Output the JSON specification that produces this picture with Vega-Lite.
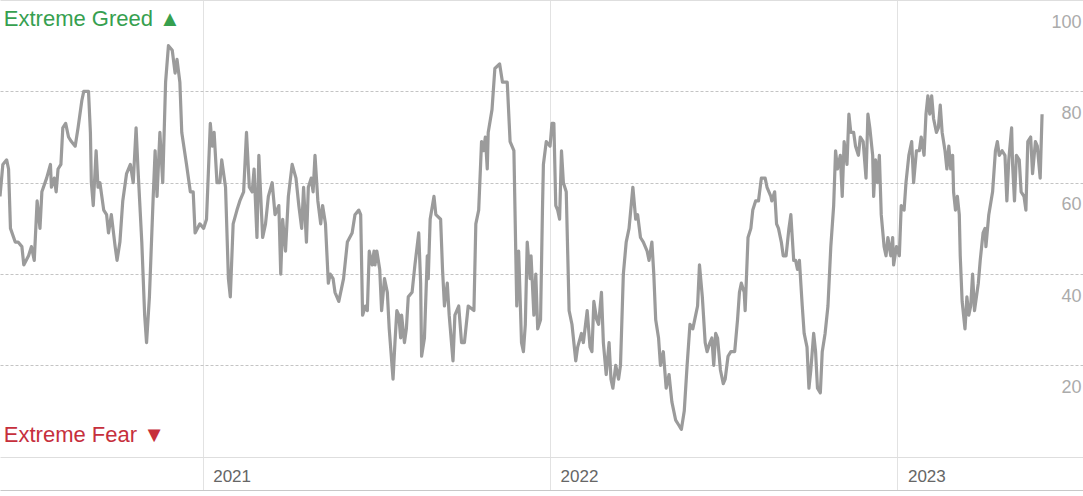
{
  "$schema": "https://vega.github.io/schema/vega-lite/v6.json",
  "width": 1083,
  "height": 491,
  "padding": 0,
  "autosize": "none",
  "background": "white",
  "datasets": {
    "fg": [
      {"date": "2020-06-02", "value": 57}, {"date": "2020-06-05", "value": 64}, {"date": "2020-06-09", "value": 65},
      {"date": "2020-06-11", "value": 63}, {"date": "2020-06-13", "value": 50}, {"date": "2020-06-18", "value": 47},
      {"date": "2020-06-21", "value": 47}, {"date": "2020-06-25", "value": 46}, {"date": "2020-06-27", "value": 42},
      {"date": "2020-07-02", "value": 44}, {"date": "2020-07-05", "value": 46}, {"date": "2020-07-08", "value": 43},
      {"date": "2020-07-11", "value": 56}, {"date": "2020-07-14", "value": 50}, {"date": "2020-07-16", "value": 58},
      {"date": "2020-07-21", "value": 61}, {"date": "2020-07-25", "value": 64}, {"date": "2020-07-26", "value": 59},
      {"date": "2020-07-29", "value": 61}, {"date": "2020-07-31", "value": 58}, {"date": "2020-08-02", "value": 63},
      {"date": "2020-08-05", "value": 64}, {"date": "2020-08-07", "value": 72}, {"date": "2020-08-10", "value": 73},
      {"date": "2020-08-13", "value": 70}, {"date": "2020-08-16", "value": 69}, {"date": "2020-08-20", "value": 68},
      {"date": "2020-08-23", "value": 72}, {"date": "2020-08-27", "value": 78}, {"date": "2020-08-29", "value": 80},
      {"date": "2020-09-03", "value": 80}, {"date": "2020-09-05", "value": 71}, {"date": "2020-09-06", "value": 60},
      {"date": "2020-09-08", "value": 55}, {"date": "2020-09-11", "value": 67}, {"date": "2020-09-13", "value": 59},
      {"date": "2020-09-15", "value": 60}, {"date": "2020-09-19", "value": 54}, {"date": "2020-09-22", "value": 53},
      {"date": "2020-09-24", "value": 49}, {"date": "2020-09-27", "value": 53}, {"date": "2020-10-01", "value": 46},
      {"date": "2020-10-03", "value": 43}, {"date": "2020-10-06", "value": 47}, {"date": "2020-10-09", "value": 56},
      {"date": "2020-10-13", "value": 62}, {"date": "2020-10-17", "value": 64}, {"date": "2020-10-20", "value": 60},
      {"date": "2020-10-23", "value": 72}, {"date": "2020-10-25", "value": 63}, {"date": "2020-10-29", "value": 47},
      {"date": "2020-11-01", "value": 31}, {"date": "2020-11-03", "value": 25}, {"date": "2020-11-06", "value": 35},
      {"date": "2020-11-10", "value": 57}, {"date": "2020-11-12", "value": 67}, {"date": "2020-11-14", "value": 57},
      {"date": "2020-11-17", "value": 71}, {"date": "2020-11-20", "value": 60}, {"date": "2020-11-23", "value": 82},
      {"date": "2020-11-26", "value": 90}, {"date": "2020-11-30", "value": 89}, {"date": "2020-12-03", "value": 84},
      {"date": "2020-12-05", "value": 87}, {"date": "2020-12-08", "value": 82}, {"date": "2020-12-10", "value": 71},
      {"date": "2020-12-15", "value": 64}, {"date": "2020-12-19", "value": 58}, {"date": "2020-12-22", "value": 58},
      {"date": "2020-12-24", "value": 49}, {"date": "2020-12-29", "value": 51}, {"date": "2021-01-02", "value": 50},
      {"date": "2021-01-05", "value": 52}, {"date": "2021-01-09", "value": 73}, {"date": "2021-01-11", "value": 68},
      {"date": "2021-01-13", "value": 71}, {"date": "2021-01-16", "value": 60}, {"date": "2021-01-19", "value": 60},
      {"date": "2021-01-21", "value": 65}, {"date": "2021-01-25", "value": 59}, {"date": "2021-01-28", "value": 39},
      {"date": "2021-01-30", "value": 35}, {"date": "2021-02-02", "value": 51}, {"date": "2021-02-06", "value": 54},
      {"date": "2021-02-09", "value": 56}, {"date": "2021-02-13", "value": 58}, {"date": "2021-02-16", "value": 71},
      {"date": "2021-02-19", "value": 59}, {"date": "2021-02-22", "value": 58}, {"date": "2021-02-24", "value": 63},
      {"date": "2021-02-27", "value": 48}, {"date": "2021-03-01", "value": 66}, {"date": "2021-03-05", "value": 48},
      {"date": "2021-03-08", "value": 51}, {"date": "2021-03-11", "value": 57}, {"date": "2021-03-15", "value": 60},
      {"date": "2021-03-18", "value": 53}, {"date": "2021-03-22", "value": 55}, {"date": "2021-03-24", "value": 40},
      {"date": "2021-03-26", "value": 52}, {"date": "2021-03-29", "value": 45}, {"date": "2021-04-01", "value": 57},
      {"date": "2021-04-05", "value": 64}, {"date": "2021-04-09", "value": 61}, {"date": "2021-04-12", "value": 55},
      {"date": "2021-04-15", "value": 50}, {"date": "2021-04-17", "value": 59}, {"date": "2021-04-20", "value": 47},
      {"date": "2021-04-22", "value": 59}, {"date": "2021-04-25", "value": 61}, {"date": "2021-04-27", "value": 58},
      {"date": "2021-04-29", "value": 66}, {"date": "2021-05-02", "value": 56}, {"date": "2021-05-05", "value": 51},
      {"date": "2021-05-07", "value": 55}, {"date": "2021-05-10", "value": 51}, {"date": "2021-05-13", "value": 38},
      {"date": "2021-05-15", "value": 40}, {"date": "2021-05-18", "value": 39}, {"date": "2021-05-20", "value": 36},
      {"date": "2021-05-24", "value": 34}, {"date": "2021-05-29", "value": 39}, {"date": "2021-06-02", "value": 47},
      {"date": "2021-06-07", "value": 49}, {"date": "2021-06-10", "value": 53}, {"date": "2021-06-14", "value": 54},
      {"date": "2021-06-16", "value": 53}, {"date": "2021-06-18", "value": 31}, {"date": "2021-06-21", "value": 33},
      {"date": "2021-06-23", "value": 32}, {"date": "2021-06-25", "value": 45}, {"date": "2021-06-28", "value": 42},
      {"date": "2021-06-30", "value": 45}, {"date": "2021-07-01", "value": 42}, {"date": "2021-07-03", "value": 45},
      {"date": "2021-07-06", "value": 41}, {"date": "2021-07-08", "value": 32}, {"date": "2021-07-11", "value": 39},
      {"date": "2021-07-14", "value": 36}, {"date": "2021-07-16", "value": 28}, {"date": "2021-07-20", "value": 17},
      {"date": "2021-07-22", "value": 25}, {"date": "2021-07-24", "value": 32}, {"date": "2021-07-26", "value": 31},
      {"date": "2021-07-28", "value": 26}, {"date": "2021-07-29", "value": 31}, {"date": "2021-08-01", "value": 25},
      {"date": "2021-08-03", "value": 28}, {"date": "2021-08-05", "value": 35}, {"date": "2021-08-09", "value": 36},
      {"date": "2021-08-12", "value": 42}, {"date": "2021-08-16", "value": 49}, {"date": "2021-08-18", "value": 38},
      {"date": "2021-08-19", "value": 22}, {"date": "2021-08-22", "value": 26}, {"date": "2021-08-25", "value": 44},
      {"date": "2021-08-26", "value": 39}, {"date": "2021-08-28", "value": 52}, {"date": "2021-09-01", "value": 57},
      {"date": "2021-09-03", "value": 53}, {"date": "2021-09-08", "value": 52}, {"date": "2021-09-10", "value": 41},
      {"date": "2021-09-12", "value": 33}, {"date": "2021-09-15", "value": 38}, {"date": "2021-09-17", "value": 31},
      {"date": "2021-09-21", "value": 21}, {"date": "2021-09-23", "value": 31}, {"date": "2021-09-27", "value": 33},
      {"date": "2021-09-30", "value": 25}, {"date": "2021-10-03", "value": 25}, {"date": "2021-10-07", "value": 33},
      {"date": "2021-10-13", "value": 32}, {"date": "2021-10-15", "value": 51}, {"date": "2021-10-18", "value": 54},
      {"date": "2021-10-21", "value": 69}, {"date": "2021-10-23", "value": 67}, {"date": "2021-10-25", "value": 70},
      {"date": "2021-10-27", "value": 63}, {"date": "2021-10-28", "value": 71}, {"date": "2021-11-01", "value": 76},
      {"date": "2021-11-04", "value": 85}, {"date": "2021-11-09", "value": 86}, {"date": "2021-11-12", "value": 82},
      {"date": "2021-11-14", "value": 82}, {"date": "2021-11-17", "value": 82}, {"date": "2021-11-20", "value": 69},
      {"date": "2021-11-24", "value": 67}, {"date": "2021-11-27", "value": 33}, {"date": "2021-11-29", "value": 45},
      {"date": "2021-12-02", "value": 25}, {"date": "2021-12-04", "value": 23}, {"date": "2021-12-06", "value": 29},
      {"date": "2021-12-08", "value": 47}, {"date": "2021-12-11", "value": 39}, {"date": "2021-12-12", "value": 44},
      {"date": "2021-12-15", "value": 31}, {"date": "2021-12-17", "value": 40}, {"date": "2021-12-19", "value": 28},
      {"date": "2021-12-22", "value": 30}, {"date": "2021-12-24", "value": 54}, {"date": "2021-12-25", "value": 64},
      {"date": "2021-12-28", "value": 69}, {"date": "2022-01-01", "value": 68}, {"date": "2022-01-03", "value": 73},
      {"date": "2022-01-05", "value": 73}, {"date": "2022-01-07", "value": 55}, {"date": "2022-01-09", "value": 54},
      {"date": "2022-01-11", "value": 52}, {"date": "2022-01-13", "value": 67}, {"date": "2022-01-15", "value": 60},
      {"date": "2022-01-18", "value": 58}, {"date": "2022-01-21", "value": 32}, {"date": "2022-01-24", "value": 29},
      {"date": "2022-01-28", "value": 21}, {"date": "2022-01-30", "value": 24}, {"date": "2022-02-03", "value": 27},
      {"date": "2022-02-05", "value": 25}, {"date": "2022-02-09", "value": 32}, {"date": "2022-02-12", "value": 24},
      {"date": "2022-02-14", "value": 23}, {"date": "2022-02-16", "value": 34}, {"date": "2022-02-19", "value": 30},
      {"date": "2022-02-21", "value": 29}, {"date": "2022-02-24", "value": 36}, {"date": "2022-02-26", "value": 25},
      {"date": "2022-03-01", "value": 18}, {"date": "2022-03-04", "value": 25}, {"date": "2022-03-06", "value": 17},
      {"date": "2022-03-08", "value": 15}, {"date": "2022-03-11", "value": 20}, {"date": "2022-03-14", "value": 17},
      {"date": "2022-03-16", "value": 20}, {"date": "2022-03-19", "value": 40}, {"date": "2022-03-22", "value": 47},
      {"date": "2022-03-25", "value": 50}, {"date": "2022-03-29", "value": 59}, {"date": "2022-04-01", "value": 52},
      {"date": "2022-04-03", "value": 53}, {"date": "2022-04-06", "value": 48}, {"date": "2022-04-09", "value": 47},
      {"date": "2022-04-13", "value": 45}, {"date": "2022-04-15", "value": 43}, {"date": "2022-04-18", "value": 47},
      {"date": "2022-04-20", "value": 40}, {"date": "2022-04-22", "value": 30}, {"date": "2022-04-25", "value": 26},
      {"date": "2022-04-27", "value": 20}, {"date": "2022-04-30", "value": 23}, {"date": "2022-05-03", "value": 15},
      {"date": "2022-05-06", "value": 18}, {"date": "2022-05-09", "value": 12}, {"date": "2022-05-13", "value": 8},
      {"date": "2022-05-16", "value": 7}, {"date": "2022-05-19", "value": 6}, {"date": "2022-05-22", "value": 10},
      {"date": "2022-05-25", "value": 20}, {"date": "2022-05-28", "value": 29}, {"date": "2022-05-31", "value": 28},
      {"date": "2022-06-03", "value": 31}, {"date": "2022-06-05", "value": 33}, {"date": "2022-06-07", "value": 42},
      {"date": "2022-06-10", "value": 35}, {"date": "2022-06-13", "value": 25}, {"date": "2022-06-15", "value": 23},
      {"date": "2022-06-18", "value": 25}, {"date": "2022-06-20", "value": 26}, {"date": "2022-06-22", "value": 20},
      {"date": "2022-06-24", "value": 27}, {"date": "2022-06-26", "value": 26}, {"date": "2022-06-29", "value": 19},
      {"date": "2022-07-02", "value": 16}, {"date": "2022-07-04", "value": 17}, {"date": "2022-07-07", "value": 22},
      {"date": "2022-07-10", "value": 23}, {"date": "2022-07-14", "value": 23}, {"date": "2022-07-17", "value": 30},
      {"date": "2022-07-19", "value": 36}, {"date": "2022-07-21", "value": 38}, {"date": "2022-07-24", "value": 36},
      {"date": "2022-07-25", "value": 32}, {"date": "2022-07-28", "value": 48}, {"date": "2022-07-31", "value": 50},
      {"date": "2022-08-02", "value": 54}, {"date": "2022-08-05", "value": 56}, {"date": "2022-08-08", "value": 56},
      {"date": "2022-08-11", "value": 61}, {"date": "2022-08-15", "value": 61}, {"date": "2022-08-17", "value": 59},
      {"date": "2022-08-21", "value": 57}, {"date": "2022-08-22", "value": 56}, {"date": "2022-08-25", "value": 58},
      {"date": "2022-08-27", "value": 51}, {"date": "2022-08-29", "value": 50}, {"date": "2022-09-01", "value": 47},
      {"date": "2022-09-03", "value": 44}, {"date": "2022-09-06", "value": 44}, {"date": "2022-09-09", "value": 50},
      {"date": "2022-09-11", "value": 53}, {"date": "2022-09-14", "value": 43}, {"date": "2022-09-16", "value": 43},
      {"date": "2022-09-18", "value": 41}, {"date": "2022-09-20", "value": 43}, {"date": "2022-09-23", "value": 33},
      {"date": "2022-09-25", "value": 27}, {"date": "2022-09-28", "value": 24}, {"date": "2022-09-30", "value": 15},
      {"date": "2022-10-02", "value": 19}, {"date": "2022-10-05", "value": 27}, {"date": "2022-10-07", "value": 23},
      {"date": "2022-10-09", "value": 15}, {"date": "2022-10-12", "value": 14}, {"date": "2022-10-14", "value": 23},
      {"date": "2022-10-17", "value": 27}, {"date": "2022-10-20", "value": 33}, {"date": "2022-10-23", "value": 46},
      {"date": "2022-10-26", "value": 55}, {"date": "2022-10-28", "value": 67}, {"date": "2022-10-30", "value": 63},
      {"date": "2022-11-02", "value": 66}, {"date": "2022-11-04", "value": 57}, {"date": "2022-11-06", "value": 69},
      {"date": "2022-11-09", "value": 64}, {"date": "2022-11-11", "value": 75}, {"date": "2022-11-13", "value": 71},
      {"date": "2022-11-16", "value": 71}, {"date": "2022-11-18", "value": 68}, {"date": "2022-11-21", "value": 66},
      {"date": "2022-11-23", "value": 70}, {"date": "2022-11-26", "value": 69}, {"date": "2022-11-29", "value": 61},
      {"date": "2022-12-01", "value": 75}, {"date": "2022-12-03", "value": 72}, {"date": "2022-12-06", "value": 66},
      {"date": "2022-12-07", "value": 57}, {"date": "2022-12-09", "value": 65}, {"date": "2022-12-11", "value": 60},
      {"date": "2022-12-13", "value": 66}, {"date": "2022-12-15", "value": 53}, {"date": "2022-12-18", "value": 46},
      {"date": "2022-12-20", "value": 44}, {"date": "2022-12-22", "value": 48}, {"date": "2022-12-25", "value": 44},
      {"date": "2022-12-27", "value": 48}, {"date": "2022-12-28", "value": 42}, {"date": "2022-12-31", "value": 46},
      {"date": "2023-01-03", "value": 44}, {"date": "2023-01-05", "value": 55}, {"date": "2023-01-08", "value": 54},
      {"date": "2023-01-10", "value": 60}, {"date": "2023-01-13", "value": 66}, {"date": "2023-01-16", "value": 69},
      {"date": "2023-01-18", "value": 60}, {"date": "2023-01-21", "value": 67}, {"date": "2023-01-24", "value": 67},
      {"date": "2023-01-26", "value": 70}, {"date": "2023-01-29", "value": 66}, {"date": "2023-01-31", "value": 75},
      {"date": "2023-02-02", "value": 79}, {"date": "2023-02-04", "value": 75}, {"date": "2023-02-06", "value": 79},
      {"date": "2023-02-08", "value": 74}, {"date": "2023-02-11", "value": 71}, {"date": "2023-02-13", "value": 72},
      {"date": "2023-02-15", "value": 77}, {"date": "2023-02-17", "value": 71}, {"date": "2023-02-20", "value": 67},
      {"date": "2023-02-22", "value": 63}, {"date": "2023-02-24", "value": 68}, {"date": "2023-02-26", "value": 63},
      {"date": "2023-02-28", "value": 66}, {"date": "2023-03-01", "value": 58}, {"date": "2023-03-03", "value": 54},
      {"date": "2023-03-05", "value": 57}, {"date": "2023-03-07", "value": 53}, {"date": "2023-03-08", "value": 44},
      {"date": "2023-03-10", "value": 34}, {"date": "2023-03-13", "value": 28}, {"date": "2023-03-15", "value": 35},
      {"date": "2023-03-17", "value": 31}, {"date": "2023-03-19", "value": 33}, {"date": "2023-03-21", "value": 40},
      {"date": "2023-03-23", "value": 32}, {"date": "2023-03-27", "value": 38}, {"date": "2023-03-29", "value": 43},
      {"date": "2023-04-01", "value": 49}, {"date": "2023-04-03", "value": 50}, {"date": "2023-04-04", "value": 46},
      {"date": "2023-04-07", "value": 53}, {"date": "2023-04-11", "value": 58}, {"date": "2023-04-14", "value": 67},
      {"date": "2023-04-16", "value": 69}, {"date": "2023-04-18", "value": 66}, {"date": "2023-04-21", "value": 67},
      {"date": "2023-04-24", "value": 66}, {"date": "2023-04-26", "value": 56}, {"date": "2023-04-28", "value": 65},
      {"date": "2023-05-01", "value": 72}, {"date": "2023-05-02", "value": 64}, {"date": "2023-05-04", "value": 56},
      {"date": "2023-05-06", "value": 66}, {"date": "2023-05-09", "value": 65}, {"date": "2023-05-11", "value": 58},
      {"date": "2023-05-14", "value": 57}, {"date": "2023-05-16", "value": 54}, {"date": "2023-05-18", "value": 69},
      {"date": "2023-05-21", "value": 70}, {"date": "2023-05-23", "value": 62}, {"date": "2023-05-26", "value": 69},
      {"date": "2023-05-28", "value": 68}, {"date": "2023-05-31", "value": 61}, {"date": "2023-06-02", "value": 75}
    ],
    "notes": [
      {"date": "2020-06-06", "value": 95.8, "label": "Extreme Greed ▲", "zone": "greed"},
      {"date": "2020-06-06", "value": 4.7, "label": "Extreme Fear ▼", "zone": "fear"}
    ]
  },
  "encoding": {
    "x": {
      "field": "date",
      "type": "temporal",
      "title": null,
      "scale": {
        "type": "utc",
        "domain": [
          {"year": 2020, "month": 6, "date": 2, "utc": true},
          {"year": 2023, "month": 7, "date": 15, "utc": true}
        ]
      },
      "axis": {
        "values": [
          {"year": 2021, "month": 1, "date": 1, "utc": true},
          {"year": 2022, "month": 1, "date": 1, "utc": true},
          {"year": 2023, "month": 1, "date": 1, "utc": true}
        ],
        "format": "%Y",
        "grid": true,
        "gridColor": "#e2e2e2",
        "gridWidth": 1,
        "ticks": false,
        "tickSize": 0,
        "domain": true,
        "domainColor": "#c8c8c8",
        "domainWidth": 3,
        "labelAlign": "left",
        "labelBaseline": "middle",
        "labelPadding": -15,
        "labelOffset": 10,
        "labelFlush": false,
        "labelOverlap": false,
        "labelColor": "#666666",
        "labelFont": "Liberation Sans",
        "labelFontSize": 17
      }
    },
    "y": {
      "field": "value",
      "type": "quantitative",
      "title": null,
      "scale": {"domain": [-7.5, 100], "nice": false, "zero": false},
      "axis": {
        "orient": "right",
        "values": [0, 20, 40, 60, 80, 100],
        "labelExpr": "datum.value == 0 ? '' : datum.label",
        "grid": true,
        "gridColor": {"condition": {"test": "datum.value == 0 || datum.value == 100", "value": "#dedede"}, "value": "#c4c4c4"},
        "gridDash": {"condition": {"test": "datum.value == 0 || datum.value == 100", "value": []}, "value": [3, 2]},
        "gridWidth": 1,
        "ticks": false,
        "tickSize": 0,
        "domain": false,
        "labelAlign": "right",
        "labelBaseline": "middle",
        "labelPadding": -2,
        "labelOffset": 22,
        "labelFlush": false,
        "labelOverlap": false,
        "labelColor": "#ababab",
        "labelFont": "Liberation Sans",
        "labelFontSize": 18
      }
    }
  },
  "layer": [
    {
      "data": {"name": "fg"},
      "mark": {"type": "line", "color": "#9b9b9b", "strokeWidth": 3.2, "strokeJoin": "round"}
    },
    {
      "data": {"name": "notes"},
      "mark": {"type": "text", "align": "left", "baseline": "middle", "font": "Liberation Sans", "fontSize": 22},
      "encoding": {
        "text": {"field": "label"},
        "color": {
          "field": "zone",
          "type": "nominal",
          "scale": {"domain": ["greed", "fear"], "range": ["#36a04f", "#c62f3c"]},
          "legend": null
        }
      }
    }
  ],
  "config": {
    "view": {"stroke": null}
  }
}
